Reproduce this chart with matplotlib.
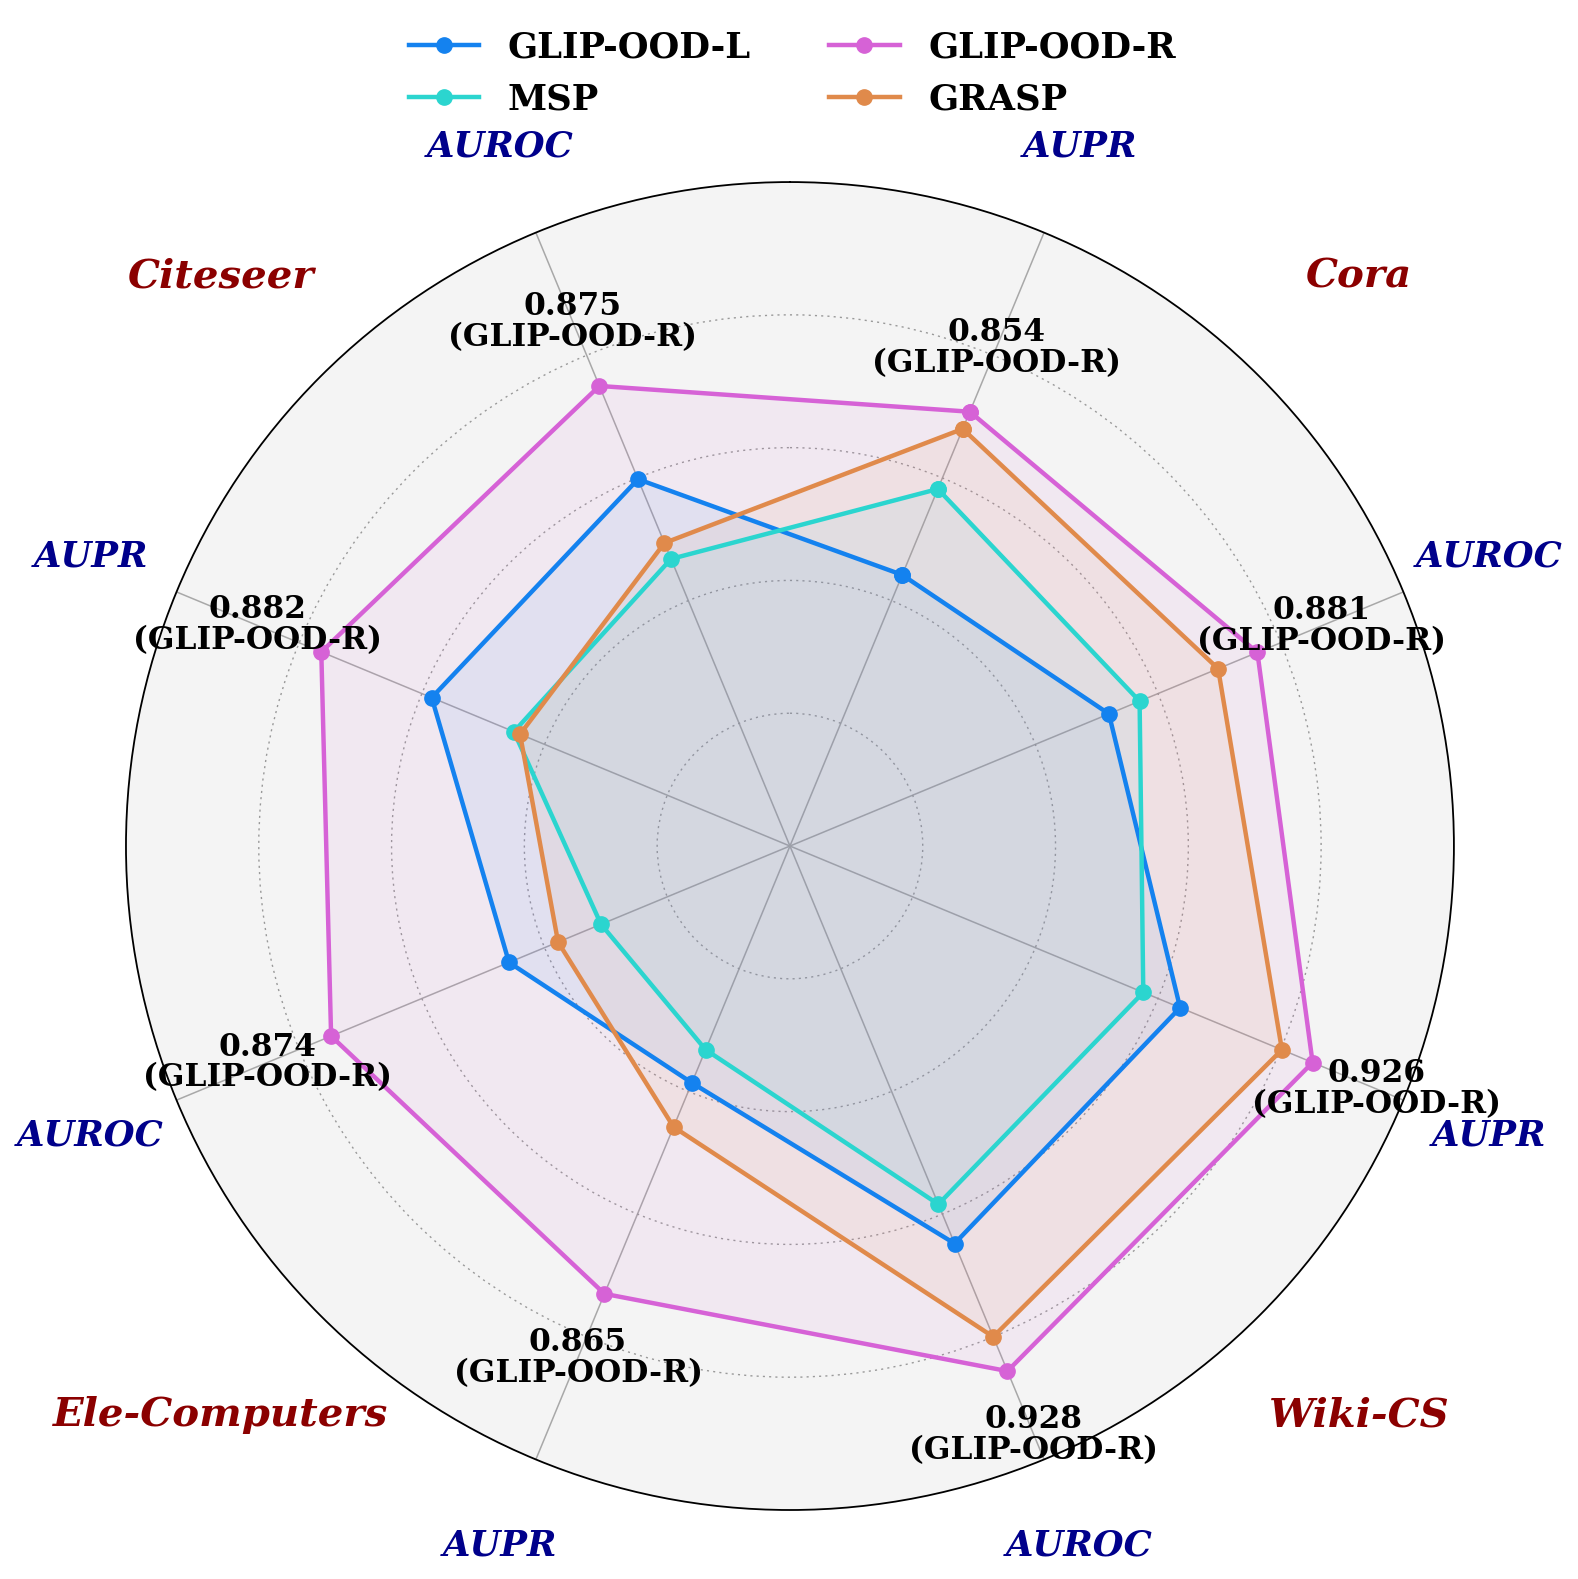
import numpy as np
import matplotlib.pyplot as plt

# radar of OOD detection scores, 4 datasets x 2 metrics
datasets = ['Cora', 'Cora', 'Wiki-CS', 'Wiki-CS', 'Ele-Computers', 'Ele-Computers', 'Citeseer', 'Citeseer']
metrics = ['AUPR', 'AUROC', 'AUPR', 'AUROC', 'AUPR', 'AUROC', 'AUPR', 'AUROC']
dataset_names = ['Cora', 'Wiki-CS', 'Ele-Computers', 'Citeseer']

glip_l = [0.721, 0.760, 0.818, 0.824, 0.693, 0.729, 0.792, 0.799]
msp = [0.791, 0.785, 0.788, 0.792, 0.666, 0.654, 0.725, 0.734]
glip_r = [0.854, 0.881, 0.926, 0.928, 0.865, 0.874, 0.882, 0.875]
grasp = [0.840, 0.849, 0.901, 0.900, 0.729, 0.689, 0.720, 0.747]

series = [('GLIP-OOD-L', glip_l, '#1482ef'),
          ('MSP', msp, '#2bd5cf'),
          ('GLIP-OOD-R', glip_r, '#d662d6'),
          ('GRASP', grasp, '#e08a4b')]

plt.rcParams['font.family'] = 'DejaVu Serif'

n = len(metrics)
angles = np.deg2rad(22.5 + 45 * np.arange(n))
closed = np.append(angles, angles[0])

fig = plt.figure(figsize=(15.78, 15.79), dpi=100)
ax = fig.add_axes([0.0798, 0.0437, 0.8416, 0.841], polar=True)
ax.set_theta_zero_location('N')
ax.set_theta_direction(-1)
ax.set_facecolor('#f4f4f4')
ax.set_ylim(0.5, 1.0)
ax.set_yticks([0.6, 0.7, 0.8, 0.9])
ax.set_yticklabels([])
ax.yaxis.grid(True, color='#999999', linestyle=(0, (1.5, 3)), linewidth=1)
ax.set_xticks(angles)
ax.set_xticklabels([])
ax.xaxis.grid(True, color='#a8a8a8', linestyle='-', linewidth=1.1)
ax.spines['polar'].set_linewidth(1.3)
ax.spines['polar'].set_color('black')

for name, vals, col in series:
    v = np.append(vals, vals[0])
    ax.plot(closed, v, color=col, lw=3.2, marker='o', ms=11, label=name, zorder=3)
    ax.fill(closed, v, color=col, alpha=0.08, zorder=2)

# best value on each axis
for i in range(n):
    ax.text(angles[i], glip_r[i] + 0.052, f'{glip_r[i]:.3f}\n(GLIP-OOD-R)',
            ha='center', va='center', fontsize=22.5, fontweight='bold',
            linespacing=1.0, zorder=5)

for i in range(n):
    ax.text(angles[i], 1.07, metrics[i], ha='center', va='center', fontsize=25.5,
            fontweight='bold', fontstyle='italic', color='#00008b', clip_on=False)

for k, dname in enumerate(dataset_names):
    ax.text(np.deg2rad(45 + 90 * k), 1.106, dname, ha='center', va='center',
            fontsize=29, fontweight='bold', fontstyle='italic', color='#8b0000',
            clip_on=False)

fig.legend(loc='upper center', bbox_to_anchor=(0.502, 0.992), ncol=2, frameon=False,
           prop={'weight': 'bold', 'size': 25.5}, handlelength=2.0, columnspacing=2.2,
           labelspacing=0.5, handletextpad=0.8, borderaxespad=0.1)

plt.savefig('out.png', dpi=100)
